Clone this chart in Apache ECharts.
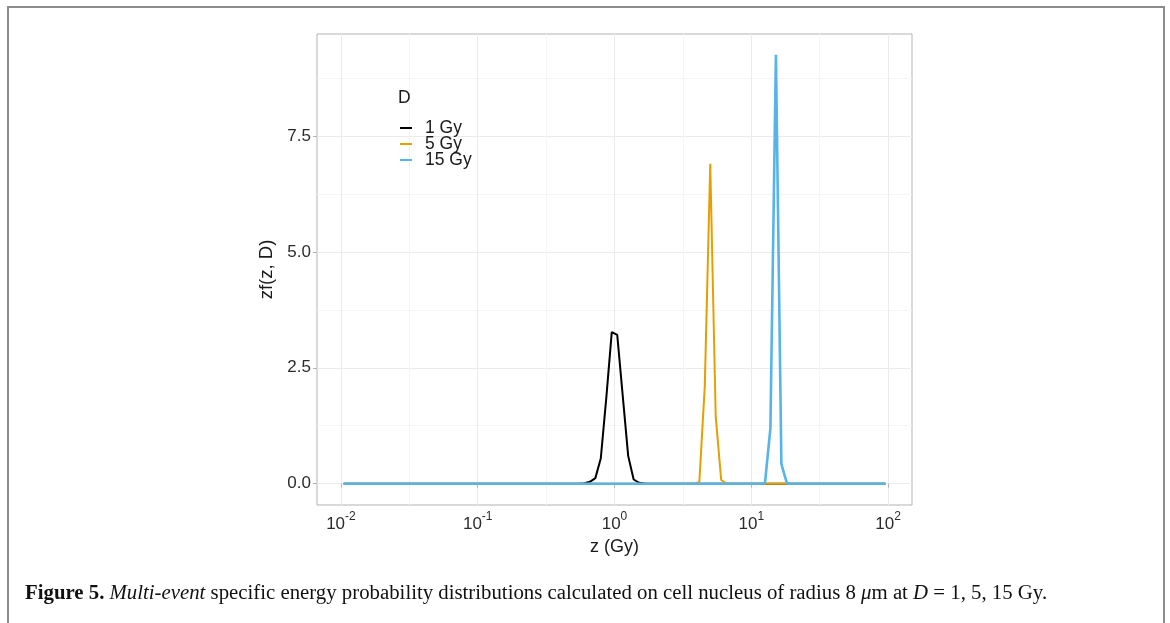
<!DOCTYPE html>
<html>
<head>
<meta charset="utf-8">
<script src="https://cdn.jsdelivr.net/npm/echarts@6/dist/echarts.min.js"></script>
<style>
  html, body { margin: 0; padding: 0; background: #fff; }
  #chart { width: 1170px; height: 623px; }
</style>
</head>
<body>
<div id="chart"></div>
<script>
// z (Gy) sample points and zf(z, D) (zero elsewhere)
var zBlack = [0.01047, 0.5495, 0.6026, 0.6607, 0.7244, 0.7943, 0.8710, 0.9550, 1.0471, 1.1482, 1.2589, 1.3804, 1.5136, 1.6596, 1.8197, 95.50];
var fBlack = [0, 0, 0.01, 0.04, 0.12, 0.55, 1.85, 3.27, 3.21, 1.9, 0.6, 0.09, 0.02, 0.005, 0, 0];

var zOrange = [0.01047, 3.467, 3.802, 4.169, 4.571, 5.012, 5.495, 6.026, 6.607, 95.50];
var fOrange = [0, 0, 0, 0.03, 2.1, 6.9, 1.45, 0.08, 0, 0];

var zBlue = [0.01047, 11.48, 12.59, 13.80, 15.14, 16.60, 18.20, 19.95, 95.50];
var fBlue = [0, 0, 0.01, 1.2, 9.25, 0.42, 0.01, 0, 0];

var seriesNames = ['1 Gy', '5 Gy', '15 Gy'];
var seriesColors = ['#000000', '#E69F00', '#56B4E9'];
var seriesWidths = [2, 2, 2.6];

var xMajor = [0.01, 0.1, 1, 10, 100];
var xMinor = [0.031623, 0.31623, 3.1623, 31.623];
var yMajor = [0, 2.5, 5, 7.5];
var yMinor = [1.25, 3.75, 6.25, 8.75];

var font = 'Liberation Sans, Arial, sans-serif';
var serif = 'Liberation Serif, serif';

function pairs(xs, ys) {
    var out = [];
    for (var i = 0; i < xs.length; i++) {
        out.push([xs[i], ys[i]]);
    }
    return out;
}

var lineData = [pairs(zBlack, fBlack), pairs(zOrange, fOrange), pairs(zBlue, fBlue)];
var series = [];
for (var k = 0; k < seriesNames.length; k++) {
    series.push({
        name: seriesNames[k], type: 'line', showSymbol: false, data: lineData[k],
        color: seriesColors[k], lineStyle: {width: seriesWidths[k], color: seriesColors[k]}
    });
}

var myChart = echarts.init(document.getElementById('chart'), null, {renderer: 'canvas'});

var option = {
    animation: false,
    backgroundColor: '#fff',
    grid: {
        left: 317, right: 258, top: 34, bottom: 118,
        show: true, borderColor: '#b3b3b3', borderWidth: 1, backgroundColor: '#fff'
    },
    legend: {
        data: seriesNames,
        orient: 'vertical',
        left: 400, top: 119,
        padding: 0,
        icon: 'rect',
        itemWidth: 12, itemHeight: 2,
        itemGap: -2,
        itemStyle: {borderWidth: 0},
        textStyle: {fontFamily: font, fontSize: 17.5, lineHeight: 16, color: '#1a1a1a', padding: [0, 0, 0, 8]}
    },
    xAxis: [{
        type: 'log', logBase: 10,
        min: 0.0066834, max: 149.62,
        name: 'z (Gy)', nameLocation: 'middle', nameGap: 30,
        nameTextStyle: {fontFamily: font, fontSize: 18, color: '#1a1a1a'},
        axisLine: {show: false},
        axisTick: {show: true, length: 4, lineStyle: {color: '#b3b3b3'}, customValues: xMajor},
        axisLabel: {
            customValues: xMajor, margin: 6,
            formatter: function (v) {
                var e = Math.round(Math.log(v) / Math.LN10);
                return '{b|10}{s|' + e + '}';
            },
            rich: {
                b: {fontFamily: font, fontSize: 17, color: '#2b2b2b', verticalAlign: 'bottom', lineHeight: 22},
                s: {fontFamily: font, fontSize: 12, color: '#2b2b2b', verticalAlign: 'top', lineHeight: 14}
            }
        },
        splitLine: {show: true, lineStyle: {color: '#ebebeb', width: 1}}
    }, {
        type: 'log', logBase: 10, position: 'top',
        min: 0.0066834, max: 149.62,
        axisLine: {show: false},
        axisTick: {show: false, customValues: xMinor},
        axisLabel: {show: false},
        splitLine: {show: true, lineStyle: {color: '#f5f5f5', width: 1}}
    }],
    yAxis: [{
        type: 'value',
        min: -0.46, max: 9.70,
        name: 'zf(z, D)', nameLocation: 'middle', nameGap: 38,
        nameTextStyle: {fontFamily: font, fontSize: 18.5, color: '#1a1a1a'},
        axisLine: {show: false},
        axisTick: {show: true, length: 4, lineStyle: {color: '#b3b3b3'}, customValues: yMajor},
        axisLabel: {
            customValues: yMajor, margin: 6,
            fontFamily: font, fontSize: 17, color: '#2b2b2b',
            formatter: function (v) { return v.toFixed(1); }
        },
        splitLine: {show: true, lineStyle: {color: '#ebebeb', width: 1}}
    }, {
        type: 'value', position: 'right',
        min: -0.46, max: 9.70,
        axisLine: {show: false},
        axisTick: {show: false, customValues: yMinor},
        axisLabel: {show: false},
        splitLine: {show: true, lineStyle: {color: '#f5f5f5', width: 1}}
    }],
    series: series,
    graphic: [
        {type: 'rect', shape: {x: 8, y: 7, width: 1156, height: 640}, z: 100,
         style: {fill: 'none', stroke: '#8c8c8c', lineWidth: 2}, silent: true},
        {type: 'text', left: 398, top: 89, z: 100,
         style: {text: 'D', fontFamily: font, fontSize: 17.5, fill: '#1a1a1a'}},
        {type: 'text', left: 25, top: 583, z: 100,
         style: {
             text: '{b|Figure 5.} {i|Multi-event} specific energy probability distributions calculated on cell nucleus of radius 8 {i|\u03bc}m at {i|D} = 1, 5, 15 Gy.',
             fontFamily: serif, fontSize: 20.8, fill: '#111',
             rich: {
                 b: {fontFamily: serif, fontSize: 20.8, fontWeight: 'bold', fill: '#111'},
                 i: {fontFamily: serif, fontSize: 20.8, fontStyle: 'italic', fill: '#111'}
             }
         }}
    ]
};
myChart.setOption(option);
</script>
</body>
</html>
